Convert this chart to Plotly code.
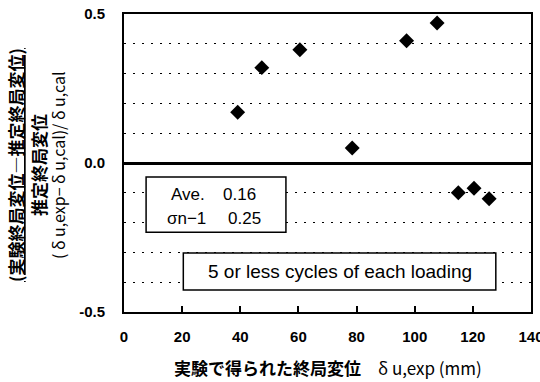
import plotly.graph_objects as go

# Measured vs. estimated ultimate displacement
delta_exp = [39.1, 47.4, 60.5, 78.5, 97.2, 107.7, 115.0, 120.4, 125.6]
ratio = [0.17, 0.32, 0.38, 0.05, 0.41, 0.47, -0.10, -0.085, -0.12]

x_ticks = [0, 20, 40, 60, 80, 100, 120, 140]
y_ticks = [-0.5, 0.0, 0.5]

stat_labels = ["Ave.", "σn−1"]
stat_values = [0.16, 0.25]
note_text = "5 or less cycles of each loading"

LATIN = "Liberation Sans, Arial, Noto Sans CJK JP"
CJK = "Noto Sans CJK JP, Liberation Sans"

fig = go.Figure()
fig.add_trace(go.Scatter(
    x=delta_exp, y=ratio, mode="markers",
    marker=dict(symbol="diamond", size=11.5, color="black", line=dict(width=0)),
    showlegend=False, hoverinfo="skip",
))

fig.update_layout(
    width=540, height=382,
    margin=dict(l=124, r=9, t=14, b=70),
    paper_bgcolor="white", plot_bgcolor="white",
    font=dict(family=LATIN, color="black"),
    xaxis=dict(
        range=[0, 140], tickvals=x_ticks, ticktext=[str(v) for v in x_ticks],
        showgrid=False, zeroline=False, automargin=False,
        showline=True, linecolor="black", linewidth=2, mirror=True,
        ticks="inside", ticklen=6, tickwidth=2, tickcolor="black",
        tickfont=dict(family=LATIN, size=15, color="black", weight="bold"),
        ticklabelstandoff=10, ticklabeloverflow="allow",
    ),
    yaxis=dict(
        range=[-0.5, 0.5], tickvals=y_ticks, ticktext=["-0.5", "0.0", "0.5"],
        showgrid=False, automargin=False,
        zeroline=True, zerolinecolor="black", zerolinewidth=2.5,
        showline=True, linecolor="black", linewidth=2, mirror=True,
        ticks="", tickfont=dict(family=LATIN, size=15, color="black", weight="bold"),
        ticklabelstandoff=14, ticklabeloverflow="allow",
        minor=dict(dtick=0.1, tick0=0, showgrid=True, gridcolor="black",
                   gridwidth=1.3, griddash="2px,7px", ticks=""),
    ),
)

# framed statistics box and note box
fig.add_shape(type="rect", xref="x", yref="y", x0=7.6, x1=55.7, y0=-0.232, y1=-0.047,
              line=dict(color="black", width=1.5), fillcolor="white", layer="above")
fig.add_shape(type="rect", xref="x", yref="y", x0=20.4, x1=127.9, y0=-0.426, y1=-0.302,
              line=dict(color="black", width=1.5), fillcolor="white", layer="above")

stat_rows_y = [-0.107, -0.185]
label_x = [15.5, 14.1]
value_x = [46.1, 47.8]
for lab, val, yy, lx, vx in zip(stat_labels, stat_values, stat_rows_y, label_x, value_x):
    fig.add_annotation(x=lx, y=yy, xref="x", yref="y", text=lab, showarrow=False,
                       xanchor="left", yanchor="middle",
                       font=dict(family=LATIN, size=17, color="black"))
    fig.add_annotation(x=vx, y=yy, xref="x", yref="y", text=f"{val:.2f}", showarrow=False,
                       xanchor="right", yanchor="middle",
                       font=dict(family=LATIN, size=17, color="black"))

fig.add_annotation(x=74.15, y=-0.364, xref="x", yref="y", text=note_text, showarrow=False,
                   xanchor="center", yanchor="middle",
                   font=dict(family=LATIN, size=19, color="black"))

# axis titles
fig.add_annotation(x=0.5, y=0, xref="paper", yref="paper", yshift=-55, showarrow=False,
                   xanchor="center", yanchor="middle",
                   text="<b>実験で得られた終局変位</b>　δ u,exp (mm)",
                   font=dict(family=CJK, size=17, color="black"))

y_title_lines = [
    ("<b><u>(実験終局変位―推定終局変位)</u></b>", -109, 17),
    ("<b>推定終局変位</b>", -86, 17),
    ("( δ u,exp− δ u,cal)/ δ u,cal", -66, 16),
]
for txt, shift, sz in y_title_lines:
    fig.add_annotation(x=0, y=0.5, xref="paper", yref="paper", xshift=shift, yshift=-2,
                       textangle=-90, showarrow=False, xanchor="center", yanchor="middle",
                       text=txt, font=dict(family=CJK, size=sz, color="black"))

fig.write_html("out.html")
